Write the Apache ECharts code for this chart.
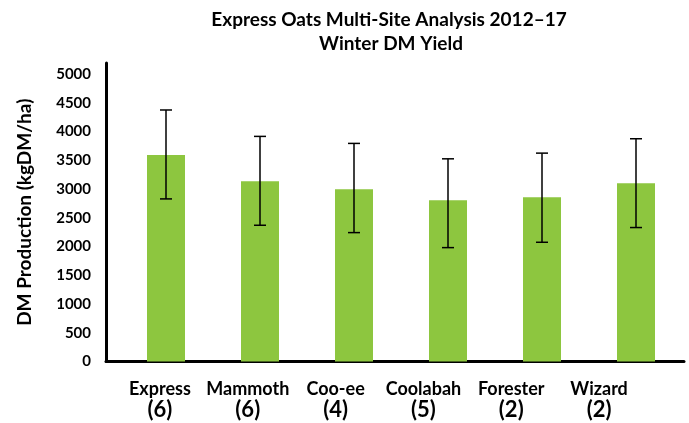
<!DOCTYPE html>
<html>
<head>
<meta charset="utf-8">
<script src="https://cdn.jsdelivr.net/npm/echarts@6/dist/echarts.min.js"></script>
<style>html,body{margin:0;padding:0;background:#fff}#c{width:689px;height:423px}</style>
</head>
<body>
<div id="c"></div>
<script>
const titleLine1 = 'Express Oats Multi-Site Analysis 2012\u201317';
const titleLine2 = 'Winter DM Yield';
const categories = ['Express', 'Mammoth', 'Coo-ee', 'Coolabah', 'Forester', 'Wizard'];
const siteCounts = ['(6)', '(6)', '(4)', '(5)', '(2)', '(2)'];
const yieldMean = [3590, 3136, 2996, 2805, 2857, 3101];
const errorHigh = [4373, 3914, 3792, 3524, 3623, 3873];
const errorLow = [2827, 2369, 2241, 1980, 2073, 2329];
const yTicks = [0, 500, 1000, 1500, 2000, 2500, 3000, 3500, 4000, 4500, 5000];
const yAxisName = 'DM Production (kgDM/ha)';

const FONT = 'Lato';
const chart = echarts.init(document.getElementById('c'), null, {renderer: 'canvas'});
const labels = categories.map((c, i) => '{n|' + c + '}\n{c|' + siteCounts[i] + '}');

chart.setOption({
  animation: false,
  backgroundColor: '#fff',
  textStyle: {fontFamily: FONT, color: '#000'},
  graphic: [
    {type: 'text', x: 389, y: 20, style: {text: titleLine1, fontFamily: FONT, fontWeight: 'bold', fontSize: 19, fill: '#000', textAlign: 'center', textVerticalAlign: 'middle'}},
    {type: 'text', x: 391, y: 44, style: {text: titleLine2, fontFamily: FONT, fontWeight: 'bold', fontSize: 19, fill: '#000', textAlign: 'center', textVerticalAlign: 'middle'}}
  ],
  grid: [
    {left: 106, right: 5, top: 63, bottom: 61.5, containLabel: false},
    {left: 116, right: 46, top: 63, bottom: 61.5, containLabel: false}
  ],
  xAxis: [
    {type: 'value', gridIndex: 0, min: -0.6383, max: 5.5106,
     axisLine: {show: true, onZero: false, lineStyle: {color: '#000', width: 3}},
     axisTick: {show: false}, axisLabel: {show: false}, splitLine: {show: false}},
    {type: 'category', gridIndex: 1, data: labels,
     axisLine: {show: false}, axisTick: {show: false}, splitLine: {show: false},
     axisLabel: {interval: 0, margin: 18, color: '#000',
       rich: {
         n: {fontFamily: FONT, fontWeight: 'bold', fontSize: 18, lineHeight: 19, color: '#000', align: 'center'},
         c: {fontFamily: FONT, fontWeight: 'bold', fontSize: 22, lineHeight: 23, color: '#000', align: 'center'}
       }}}
  ],
  yAxis: [
    {type: 'value', gridIndex: 0, min: 0, max: 5190, interval: 500,
     name: yAxisName, nameLocation: 'middle', nameRotate: 90, nameGap: 72,
     nameTextStyle: {fontFamily: FONT, fontWeight: 'bold', fontSize: 19, color: '#000'},
     axisLine: {show: true, onZero: false, lineStyle: {color: '#000', width: 3}},
     axisTick: {show: false}, splitLine: {show: false},
     axisLabel: {margin: 15, fontFamily: FONT, fontWeight: 'bold', fontSize: 15, color: '#000', showMaxLabel: false,
       formatter: v => (yTicks.indexOf(v) >= 0 ? String(v) : '')}},
    {type: 'value', gridIndex: 1, min: 0, max: 5190, show: false}
  ],
  series: [
    {type: 'bar', xAxisIndex: 0, yAxisIndex: 0, barWidth: 38,
     itemStyle: {color: '#8dc63f'},
     data: yieldMean.map((v, i) => [i, v])},
    {type: 'custom', xAxisIndex: 0, yAxisIndex: 0, z: 5,
     data: errorHigh.map((h, i) => [i, errorLow[i], h]),
     renderItem: function (params, api) {
       const x = api.value(0);
       const lo = api.coord([x, api.value(1)]);
       const hi = api.coord([x, api.value(2)]);
       const hw = 6;
       const st = {stroke: '#000', lineWidth: 1.5};
       return {type: 'group', children: [
         {type: 'line', shape: {x1: lo[0], y1: lo[1], x2: hi[0], y2: hi[1]}, style: st},
         {type: 'line', shape: {x1: hi[0] - hw, y1: hi[1], x2: hi[0] + hw, y2: hi[1]}, style: st},
         {type: 'line', shape: {x1: lo[0] - hw, y1: lo[1], x2: lo[0] + hw, y2: lo[1]}, style: st}
       ]};
     }}
  ]
});
</script>
</body>
</html>
